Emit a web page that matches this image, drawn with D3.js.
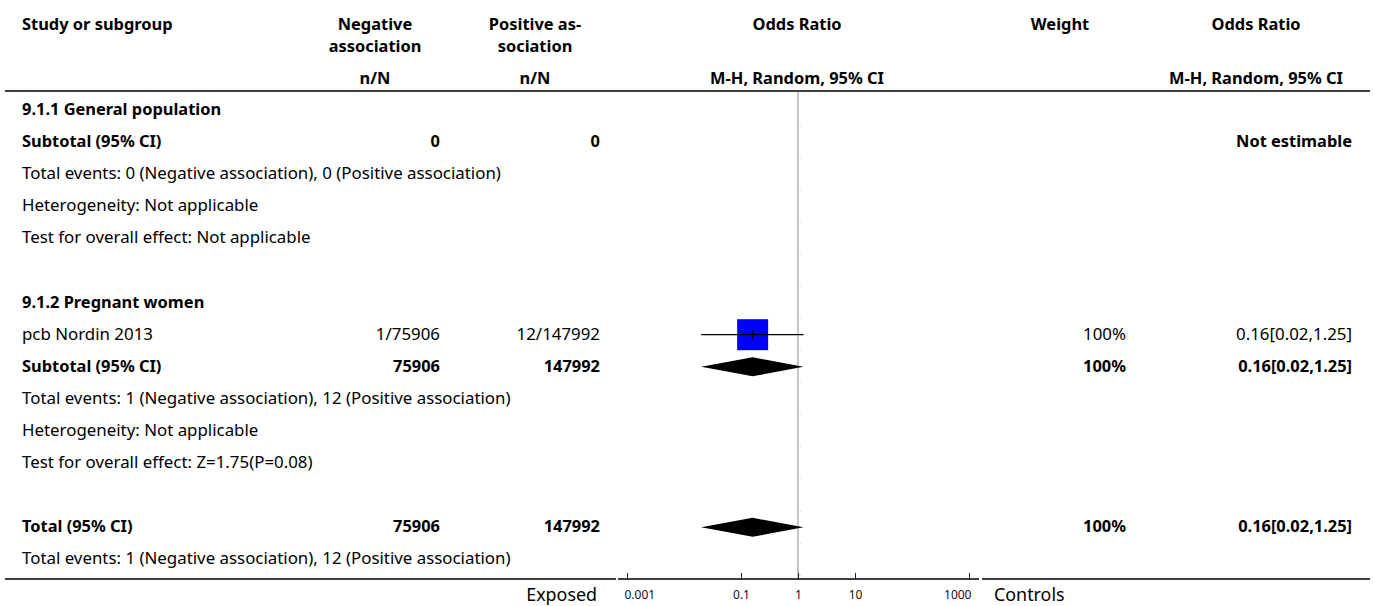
<!DOCTYPE html>
<html><head><meta charset="utf-8">
<script src="https://cdn.jsdelivr.net/npm/d3@7"></script>
<style>body{margin:0;background:#fff}svg{display:block}text{font-family:"Noto Sans",sans-serif;fill:#000}</style>
</head><body><svg id="c" width="1375" height="606"></svg>
<script>
// ---- data ----
const headerCols = ["Study or subgroup", "Negative\nassociation", "Positive as-\nsociation", "Odds Ratio", "Weight", "Odds Ratio"];
const subHeaders = ["n/N", "n/N", "M-H, Random, 95% CI", "M-H, Random, 95% CI"];
// row kinds: group, study, subtotal, info, blank, total
const rowKinds  = ["group","subtotal","info","info","info","blank","group","study","subtotal","info","info","info","blank","total","info"];
const rowLabels = ["9.1.1 General population","Subtotal (95% CI)","Total events: 0 (Negative association), 0 (Positive association)","Heterogeneity: Not applicable","Test for overall effect: Not applicable","","9.1.2 Pregnant women","pcb Nordin 2013","Subtotal (95% CI)","Total events: 1 (Negative association), 12 (Positive association)","Heterogeneity: Not applicable","Test for overall effect: Z=1.75(P=0.08)","","Total (95% CI)","Total events: 1 (Negative association), 12 (Positive association)"];
const negCol    = ["","0","","","","","","1/75906","75906","","","","","75906",""];
const posCol    = ["","0","","","","","","12/147992","147992","","","","","147992",""];
const weightCol = ["","","","","","","","100%","100%","","","","","100%",""];
const orCol     = ["","Not estimable","","","","","","0.16[0.02,1.25]","0.16[0.02,1.25]","","","","","0.16[0.02,1.25]",""];
const orEst = [null,null,null,null,null,null,null,0.16,0.16,null,null,null,null,0.16,null];
const orLo  = [null,null,null,null,null,null,null,0.02,0.02,null,null,null,null,0.02,null];
const orHi  = [null,null,null,null,null,null,null,1.25,1.25,null,null,null,null,1.25,null];
const axisTicks = [0.001, 0.1, 1, 10, 1000];
const axisLeftLabel = "Exposed", axisRightLabel = "Controls";

// ---- layout ----
const svg = d3.select("#c");
function fitSize(str, weight, target) {
  const t = svg.append("text").attr("font-size", 20).attr("font-weight", weight).text(str);
  const w = t.node().getComputedTextLength(); t.remove();
  return 20 * target / w;
}
const LX = 22;
const FS = fitSize(rowLabels[2], "normal", 479);
const FSB = fitSize("M-H, Random, 95% CI", "bold", 174);
const x = d3.scaleLog().domain([0.001, 1000]).range([627, 969]);
const y = d3.scaleLinear().domain([0, rowKinds.length - 1]).range([110, 559.4]);
const colNeg = 440, colPos = 600, colW = 1126, colOR = 1352;
const axisY = 579;

// header
const hdr = svg.append("g").attr("font-weight", "bold").attr("font-size", FSB);
const hx = [LX, 375, 535, 797, 1060, 1256];
headerCols.forEach((h, i) => {
  h.split("\n").forEach((ln, j) => hdr.append("text").attr("x", hx[i]).attr("y", 30 + j * 22)
    .attr("text-anchor", i === 0 ? "start" : "middle").text(ln));
});
[375, 535, 797, 1256].forEach((xx, i) => hdr.append("text").attr("x", xx).attr("y", 84).attr("text-anchor", "middle").text(subHeaders[i]));
svg.append("line").attr("x1", 5).attr("x2", 1370).attr("y1", 91).attr("y2", 91).attr("stroke", "#000").attr("stroke-width", 1.3);

// vertical null line with faint row ticks
svg.append("line").attr("x1", x(1)).attr("x2", x(1)).attr("y1", 92).attr("y2", axisY).attr("stroke", "#a0a0a0").attr("stroke-width", 1.2);
d3.range(rowKinds.length).forEach(i => {
  const yy = y(i) + (y(1) - y(0)) / 2;
  svg.append("line").attr("x1", x(1)).attr("x2", x(1) + 3).attr("y1", yy).attr("y2", yy).attr("stroke", "#d8d8d8").attr("stroke-width", 1);
});

// rows
const rows = svg.append("g");
rowKinds.forEach((k, i) => {
  if (k === "blank") return;
  const bold = (k === "group" || k === "subtotal" || k === "total");
  const yy = y(i) + 5;
  const g = rows.append("g").attr("font-weight", bold ? "bold" : "normal").attr("font-size", bold ? FSB : FS);
  g.append("text").attr("x", LX).attr("y", yy).text(rowLabels[i]);
  g.append("text").attr("x", colNeg).attr("y", yy).attr("text-anchor", "end").text(negCol[i]);
  g.append("text").attr("x", colPos).attr("y", yy).attr("text-anchor", "end").text(posCol[i]);
  g.append("text").attr("x", colW).attr("y", yy).attr("text-anchor", "end").text(weightCol[i]);
  g.append("text").attr("x", colOR).attr("y", yy).attr("text-anchor", "end").text(orCol[i]);
  if (orEst[i] == null) return;
  const cy = y(i);
  if (k === "study") {
    const s = 31;
    svg.append("rect").attr("x", x(orEst[i]) - s / 2).attr("y", cy - s / 2).attr("width", s).attr("height", s).attr("fill", "#0000ff");
    svg.append("line").attr("x1", x(orEst[i])).attr("x2", x(orEst[i])).attr("y1", cy - 4.5).attr("y2", cy + 4.5).attr("stroke", "#000").attr("stroke-width", 1.2);
    svg.append("line").attr("x1", x(orLo[i])).attr("x2", x(orHi[i])).attr("y1", cy).attr("y2", cy).attr("stroke", "#000").attr("stroke-width", 1.2);
  } else {
    const h = 9.5;
    const pts = [[x(orLo[i]), cy], [x(orEst[i]), cy - h], [x(orHi[i]), cy], [x(orEst[i]), cy + h]];
    svg.append("path").attr("d", d3.line()(pts) + "Z").attr("fill", "#000");
  }
});

// bottom lines + axis
svg.append("line").attr("x1", 5).attr("x2", 616).attr("y1", axisY).attr("y2", axisY).attr("stroke", "#000").attr("stroke-width", 1.3);
svg.append("line").attr("x1", 982).attr("x2", 1370).attr("y1", axisY).attr("y2", axisY).attr("stroke", "#000").attr("stroke-width", 1.3);
const ax = svg.append("g").attr("transform", `translate(0,${axisY})`)
  .call(d3.axisTop(x).tickValues(axisTicks).tickSize(6).tickSizeOuter(0).tickFormat(d3.format("~g")));
ax.select(".domain").attr("d", "M618,0H979").attr("stroke", "#000").attr("stroke-width", 1.3);
ax.selectAll(".tick line").attr("stroke", "#222");
const n = axisTicks.length;
ax.selectAll(".tick text")
  .attr("y", 20).attr("dy", 0).attr("font-size", 12)
  .attr("font-family", "'DejaVu Sans',sans-serif").style("fill", "#111")
  .attr("text-anchor", (d, i) => i === 0 ? "start" : i === n - 1 ? "end" : "middle")
  .attr("x", (d, i) => i === 0 ? -3 : i === n - 1 ? 2 : 0);
svg.append("text").attr("x", 597).attr("y", 601).attr("text-anchor", "end").attr("font-size", FS + 1).text(axisLeftLabel);
svg.append("text").attr("x", 994).attr("y", 601).attr("font-size", FS + 1).text(axisRightLabel);
</script></body></html>
